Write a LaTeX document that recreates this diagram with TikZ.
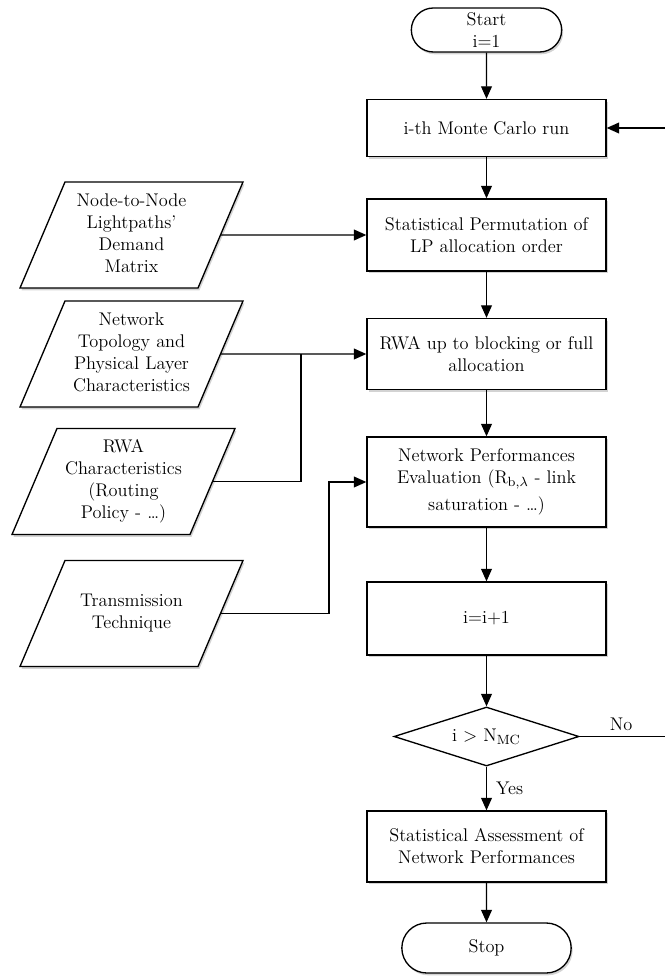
\documentclass[tikz,border=0pt]{standalone}
\usepackage{tikz}
\usetikzlibrary{arrows.meta,        % arrow tips
                shapes.geometric,   % diamond, trapezium
                shapes.misc,        % rounded rectangle
                shadows}

\tikzset{
  flowshape/.style={draw, line width=0.8pt, fill=white, align=center, inner sep=2pt,
                    font=\fontsize{11}{13.2}\selectfont},
  shadowed/.style={drop shadow={shadow xshift=0.9pt, shadow yshift=-1.4pt, opacity=0.35}},
  procbox/.style={flowshape, shadowed, rectangle, minimum width=143.4pt},
  termbox/.style={flowshape, shadowed, rounded rectangle},
  databox/.style={flowshape, shadowed, trapezium, trapezium left angle=67,
                  trapezium right angle=113, text width=79.8pt,
                  inner xsep=0pt, inner ysep=5.4pt,
                  execute at begin node={\strut}, execute at end node={\strut}},
  testbox/.style={flowshape, diamond, aspect=3.1, minimum width=111pt,
                  minimum height=35.4pt, inner sep=0pt},
  flow/.style={line width=0.8pt, -{Triangle[length=7.5pt,width=6.5pt]}},
  link/.style={line width=0.8pt},
  tag/.style={font=\fontsize{11}{13.2}\selectfont},
}

\begin{document}
\begin{tikzpicture}[x=0.6pt, y=-0.6pt]
  \useasboundingbox (0,0) rectangle (665,978);

  % main column
  \node[termbox, minimum width=94.2pt, minimum height=26.4pt] (start) at (486.5,30) {Start\\i=1};
  \node[procbox, minimum height=34.2pt] (run) at (486.5,128) {i-th Monte Carlo run};
  \node[procbox, minimum height=43.2pt] (perm) at (486.5,235) {Statistical Permutation of\\LP allocation order};
  \node[procbox, minimum height=42.6pt] (rwa) at (486.5,354) {RWA up to blocking or full\\allocation};
  \node[procbox, minimum height=54pt] (eval) at (486.5,482)
    {Network Performances\\Evaluation (R$_{\mathrm{b},\lambda}$ - link\\[3pt]saturation - \ldots)};
  \node[procbox, minimum height=43.8pt] (incr) at (486.5,618.5) {i=i+1};
  \node[testbox] (test) at (486.5,736.5) {i $>$ N$_{\mathrm{MC}}$};
  \node[procbox, minimum height=42.6pt] (assess) at (486.5,846.5) {Statistical Assessment of\\Network Performances};
  \node[termbox, minimum width=105.6pt, minimum height=30pt] (stop) at (486.5,948) {Stop};

  % inputs on the left
  \node[databox] (demand) at (131.5,235) {Node-to-Node\\Lightpaths'\\Demand\\Matrix};
  \node[databox] (topo) at (131.5,354) {Network\\Topology and\\Physical Layer\\Characteristics};
  \node[databox] (policy) at (123.5,481.5) {RWA\\Characteristics\\(Routing\\Policy - \ldots)};
  \node[databox] (tech) at (131.5,613.5) {\mbox{}\\Transmission\\Technique\\\mbox{}};

  \coordinate (merge) at (301,354);
  \coordinate (bend) at (329,482);
  \coordinate (back) at (666,736.5);

  \draw[flow] (start) -- (run);
  \draw[flow] (run) -- (perm);
  \draw[flow] (perm) -- (rwa);
  \draw[flow] (rwa) -- (eval);
  \draw[flow] (eval) -- (incr);
  \draw[flow] (incr) -- (test);
  \draw[flow] (test) -- node[tag, right, xshift=2pt] {Yes} (assess);
  \draw[flow] (assess) -- (stop);
  \draw[flow] (test) -- node[tag, above, pos=0.48] {No} (back) |- (run);

  \draw[flow] (demand) -- (perm);
  \draw[flow] (topo) -- (rwa);
  \draw[link] (policy) -| (merge);
  \draw[flow] (tech) -| (bend) -- (eval);
\end{tikzpicture}
\end{document}
